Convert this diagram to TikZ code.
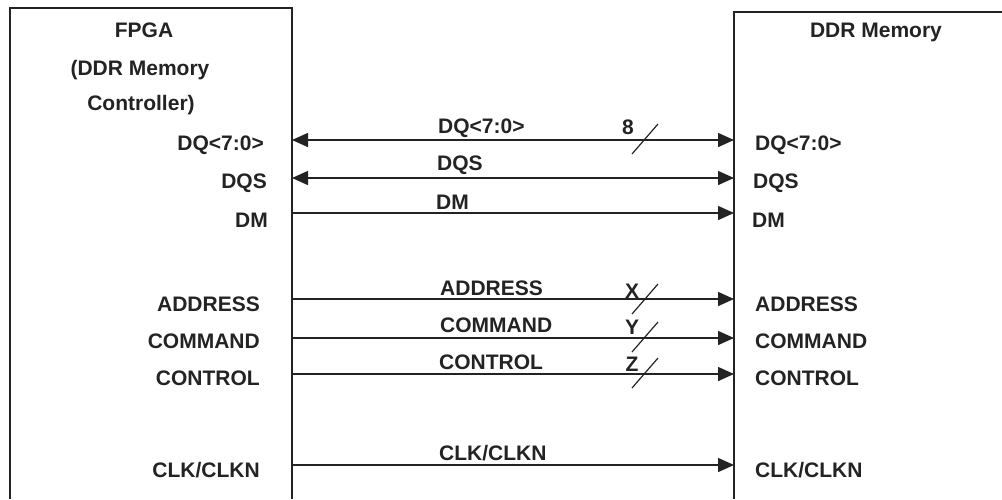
\documentclass[tikz,border=0pt]{standalone}
\usepackage{fontspec}
\setmainfont{Liberation Sans}
\usepackage{tikz}
\usetikzlibrary{arrows.meta, calc}

\definecolor{ink}{RGB}{35,35,35}
\tikzset{
  box/.style={draw=ink, line width=1.6pt},
  bus/.style={draw=ink, line width=1.5pt, {Triangle[length=16pt,width=14pt]}-{Triangle[length=16pt,width=14pt]}},
  sig/.style={draw=ink, line width=1.5pt, -{Triangle[length=16pt,width=14pt]}},
  txt/.style={text=ink, font=\fontsize{21}{24}\selectfont\bfseries, inner sep=0pt},
  pinl/.style={txt, anchor=east},
  pinr/.style={txt, anchor=west},
  wire/.style={txt, anchor=west},
  width/.style={draw=ink, line width=1.2pt}
}

\begin{document}
\begin{tikzpicture}[x=1pt, y=-1pt]
\useasboundingbox (0,0) rectangle (1002,499);

%---FPGA---
\draw[box] (10,499) |- (292,8) -- (292,499);
\node[txt] (fpga) at (144,30) {FPGA};
\node[txt] (fpgaa) at (140,70) {(DDR Memory};
\node[txt] (fpgab) at (141,105) {Controller)};

\node[pinl] (fdq) at (264,145) {DQ<7:0>};
\node[pinl] (fdqs) at (267,183) {DQS};
\node[pinl] (fdm) at (268,220) {DM};
\node[pinl] (faddr) at (260,304) {ADDRESS};
\node[pinl] (fcmd) at (260,341) {COMMAND};
\node[pinl] (fctl) at (260,378) {CONTROL};
\node[pinl] (fclk) at (260,470) {CLK/CLKN};

%---DDR Memory---
\draw[box] (734,499) |- (1002,12);
\node[txt] (mem) at (876,32) {DDR Memory};

\node[pinr] (mdq) at (755,145) {DQ<7:0>};
\node[pinr] (mdqs) at (753,183) {DQS};
\node[pinr] (mdm) at (752,220) {DM};
\node[pinr] (maddr) at (755,304) {ADDRESS};
\node[pinr] (mcmd) at (755,341) {COMMAND};
\node[pinr] (mctl) at (755,378) {CONTROL};
\node[pinr] (mclk) at (755,470) {CLK/CLKN};

%---pins on the box edges---
\coordinate (a1) at (292,140); \coordinate (b1) at (734,140);
\coordinate (a2) at (292,178); \coordinate (b2) at (734,178);
\coordinate (a3) at (292,213); \coordinate (b3) at (734,213);
\coordinate (a4) at (292,299); \coordinate (b4) at (734,299);
\coordinate (a5) at (292,338); \coordinate (b5) at (734,338);
\coordinate (a6) at (292,374); \coordinate (b6) at (734,374);
\coordinate (a7) at (292,465); \coordinate (b7) at (734,465);

\draw[bus] (a1) -- (b1);
\draw[bus] (a2) -- (b2);
\draw[sig] (a3) -- (b3);
\draw[sig] (a4) -- (b4);
\draw[sig] (a5) -- (b5);
\draw[sig] (a6) -- (b6);
\draw[sig] (a7) -- (b7);

\node[wire] (wdq) at (438,128) {DQ<7:0>};
\node[wire] (wdqs) at (437,165) {DQS};
\node[wire] (wdm) at (436,202) {DM};
\node[wire] (waddr) at (440,288) {ADDRESS};
\node[wire] (wcmd) at (440,325) {COMMAND};
\node[wire] (wctl) at (439,362) {CONTROL};
\node[wire] (wclk) at (439,453) {CLK/CLKN};

%---bus widths---
\coordinate (s1) at (645,139);
\coordinate (s4) at (645,299);
\coordinate (s5) at (645,337);
\coordinate (s6) at (645,373);
\draw[width] ($(s1)+(-13,15)$) -- ($(s1)+(13,-15)$);
\draw[width] ($(s4)+(-13,15)$) -- ($(s4)+(13,-15)$);
\draw[width] ($(s5)+(-13,15)$) -- ($(s5)+(13,-15)$);
\draw[width] ($(s6)+(-13,15)$) -- ($(s6)+(13,-15)$);

\node[txt] (n8) at (628,127) {8};
\node[txt] (nx) at (632,291) {X};
\node[txt] (ny) at (632,327) {Y};
\node[txt] (nz) at (632,364) {Z};

\end{tikzpicture}
\end{document}
